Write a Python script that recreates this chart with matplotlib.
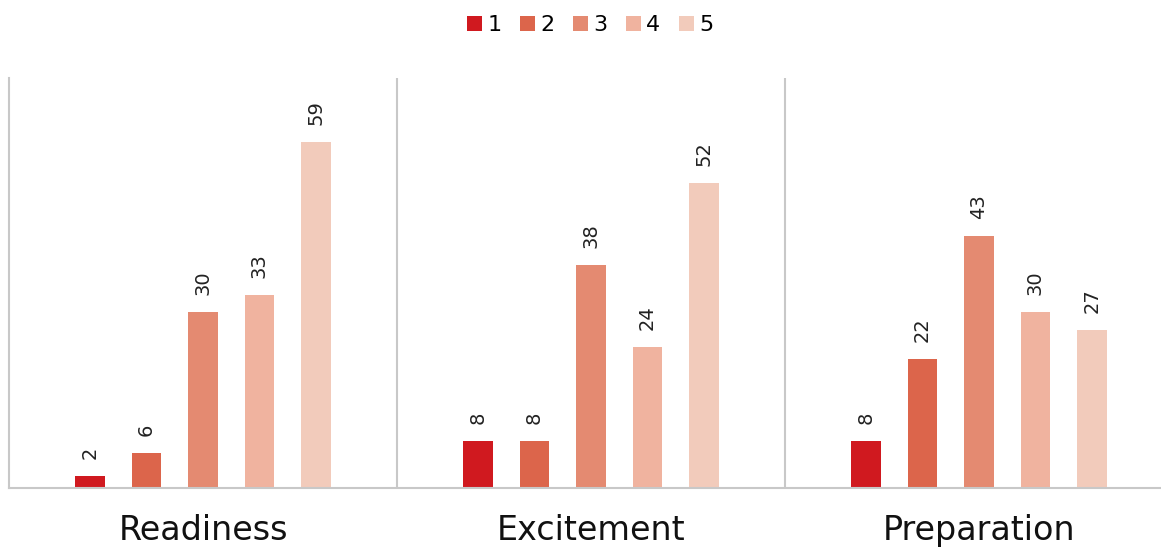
import numpy as np
import matplotlib.pyplot as plt
from matplotlib.patches import Patch

categories = ['Readiness', 'Excitement', 'Preparation']
ratings = ['1', '2', '3', '4', '5']
# counts per rating, one list per category
readiness = [2, 6, 30, 33, 59]
excitement = [8, 8, 38, 24, 52]
preparation = [8, 22, 43, 30, 27]

colors = ['#d0191f', '#dc654b', '#e48a71', '#f0b39f', '#f2cbbb']
grid_gray = '#c8c8c8'

values = np.array([readiness, excitement, preparation])

fig = plt.figure(figsize=(11.61, 5.48), dpi=100)
# group width is 388 px, so the last panel runs slightly past the right edge
ax = fig.add_axes([9 / 1161, 60 / 548, 1164 / 1161, 410 / 548])

x = np.arange(len(categories))
step = 0.1456
width = 0.077
for i, r in enumerate(ratings):
    pos = x + (i - 2) * step
    ax.bar(pos, values[:, i], width=width, color=colors[i], label=r, zorder=2)
    for px, v in zip(pos, values[:, i]):
        ax.text(px, v + 2.9, str(v), rotation=90, ha='center', va='bottom',
                fontsize=14, color='#222222')

# panel separators
for sep in [0.5, 1.5]:
    ax.axvline(sep, color=grid_gray, linewidth=1.5, zorder=1)

ax.set_xlim(-0.5, 2.5)
ax.set_ylim(0, 70)
ax.set_yticks([])
ax.set_xticks(x)
ax.set_xticklabels(categories, fontsize=24, color='#111111')
ax.tick_params(axis='x', length=0, pad=19)
for s in ['top', 'right']:
    ax.spines[s].set_visible(False)
for s in ['left', 'bottom']:
    ax.spines[s].set_color(grid_gray)
    ax.spines[s].set_linewidth(1.5)

handles = [Patch(facecolor=c, label=r) for c, r in zip(colors, ratings)]
fig.legend(handles=handles, loc='center',
           bbox_to_anchor=(0.5 + 10 / 1161, 1 - 25 / 548),
           ncol=5, frameon=False, fontsize=16, handlelength=0.65,
           handleheight=0.65, handletextpad=0.25, columnspacing=0.85)

fig.savefig('out.png', dpi=100)
